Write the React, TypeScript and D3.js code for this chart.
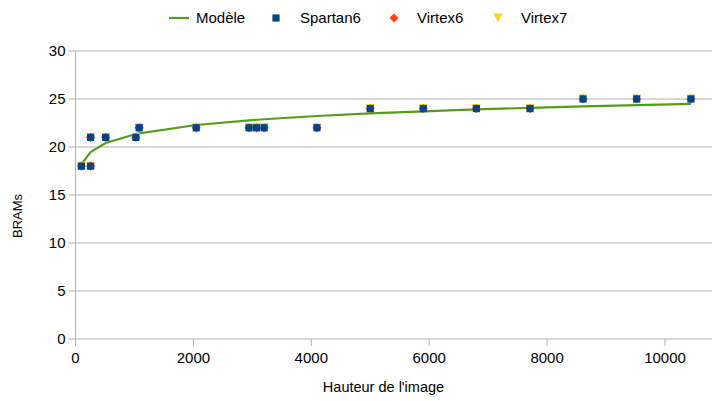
import React from "react";
import * as d3 from "d3";

const imageHeights = [100, 256, 256, 512, 1024, 1080, 2048, 2944, 3072, 3200, 4096, 5000, 5900, 6800, 7710, 8610, 9520, 10440];
const spartan6 = [18, 18, 21, 21, 21, 22, 22, 22, 22, 22, 22, 24, 24, 24, 24, 25, 25, 25];
const virtex6 = [18, 18, 21, 21, 21, 22, 22, 22, 22, 22, 22, 24, 24, 24, 24, 25, 25, 25];
const virtex7 = [18, 18, 21, 21, 21, 22, 22, 22, 22, 22, 22, 24, 24, 24, 24, 25, 25, 25];
const modelX = [100, 256, 512, 1024, 1080, 2048, 2944, 3072, 3200, 4096, 5000, 5900, 6800, 7710, 8610, 9520, 10440];
const modelY = [18.2, 19.47, 20.41, 21.35, 21.42, 22.29, 22.78, 22.84, 22.89, 23.23, 23.5, 23.72, 23.91, 24.08, 24.23, 24.37, 24.49];
const xTicks = [0, 2000, 4000, 6000, 8000, 10000];
const yTicks = [0, 5, 10, 15, 20, 25, 30];

const W = 713, H = 401;
const FONT = "'Liberation Sans', Arial, sans-serif";
const GREEN = "#579d1c", BLUE = "#004586", ORANGE = "#ff420e", YELLOW = "#ffd320";

export default function App() {
  const x = d3.scaleLinear().domain([0, 10000]).range([75.5, 665]);
  const y = d3.scaleLinear().domain([0, 30]).range([339, 51]);
  const xMax = x.invert(712);
  const line = d3.line<number>().x((d, i) => x(modelX[i])).y((d) => y(d));
  const sq = (cx: number, cy: number) => `M${cx - 3.6},${cy - 3.6}h7.2v7.2h-7.2Z`;
  const dia = (cx: number, cy: number) => `M${cx},${cy - 4.6}L${cx + 4.6},${cy}L${cx},${cy + 4.6}L${cx - 4.6},${cy}Z`;
  const tri = (cx: number, cy: number) => `M${cx - 4.5},${cy - 4.5}L${cx + 4.5},${cy - 4.5}L${cx},${cy + 4}Z`;
  return (
    <svg width={W} height={H} style={{ position: "absolute", left: 0, top: 0, fontFamily: FONT }}>
      <rect width={W} height={H} fill="#fff" />
      {yTicks.map((t) => (
        <g key={t}>
          {t > 0 && <line x1={x(0)} x2={x(xMax)} y1={y(t)} y2={y(t)} stroke="#b3b3b3" strokeWidth={1} />}
          <line x1={x(0) - 7} x2={x(0)} y1={y(t)} y2={y(t)} stroke="#b3b3b3" />
          <text x={x(0) - 10} y={y(t)} dy="0.35em" textAnchor="end" fontSize={15} fill="#000">{t}</text>
        </g>
      ))}
      <line x1={x(0)} x2={x(0)} y1={y(30)} y2={y(0)} stroke="#b3b3b3" />
      <line x1={x(0)} x2={x(xMax)} y1={y(0)} y2={y(0)} stroke="#b3b3b3" />
      {xTicks.map((t) => (
        <g key={t}>
          <line x1={x(t)} x2={x(t)} y1={y(0)} y2={y(0) + 7} stroke="#b3b3b3" />
          <text x={x(t)} y={y(0) + 24} textAnchor="middle" fontSize={15} fill="#000">{t}</text>
        </g>
      ))}
      <text x={383.5} y={392} textAnchor="middle" fontSize={14.5} fill="#000">Hauteur de l'image</text>
      <text transform={`translate(22,216) rotate(-90)`} textAnchor="middle" fontSize={13} fill="#000">BRAMs</text>
      <path d={line(modelY) || ""} fill="none" stroke={GREEN} strokeWidth={2.2} />
      {imageHeights.map((h, i) => (
        <path key={"t" + i} d={tri(x(h), y(virtex7[i]))} fill={YELLOW} />
      ))}
      {imageHeights.map((h, i) => (
        <path key={"d" + i} d={dia(x(h), y(virtex6[i]))} fill={ORANGE} />
      ))}
      {imageHeights.map((h, i) => (
        <path key={"s" + i} d={sq(x(h), y(spartan6[i]))} fill={BLUE} />
      ))}
      <g fontSize={15} fill="#000">
        <line x1={169} x2={189} y1={18} y2={18} stroke={GREEN} strokeWidth={2.2} />
        <text x={196} y={18} dy="0.35em">Modèle</text>
        <path d={sq(276, 18)} fill={BLUE} />
        <text x={300} y={18} dy="0.35em">Spartan6</text>
        <path d={dia(394, 18)} fill={ORANGE} />
        <text x={417} y={18} dy="0.35em">Virtex6</text>
        <path d={tri(498, 18)} fill={YELLOW} />
        <text x={521} y={18} dy="0.35em">Virtex7</text>
      </g>
    </svg>
  );
}
